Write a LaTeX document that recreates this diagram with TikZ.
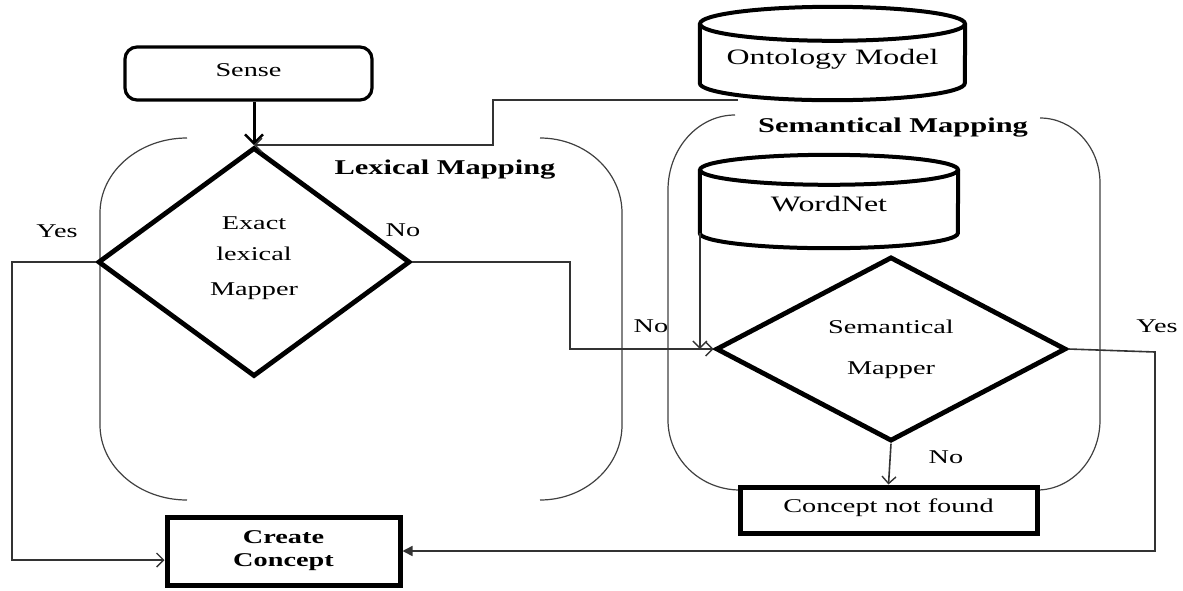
\documentclass[tikz,border=0pt]{standalone}
\usepackage{fontspec}
\setmainfont{Liberation Serif}[FakeStretch=1.45]
\usetikzlibrary{arrows.meta,shapes.geometric}

\begin{document}
\begin{tikzpicture}[x=1pt,y=-1pt,
  txt/.style={font=\fontsize{19.5}{22}\selectfont},
  bigtxt/.style={font=\fontsize{22}{26}\selectfont},
  headtxt/.style={font=\fontsize{21}{24}\selectfont\bfseries},
  thickbox/.style={draw, rectangle, line width=5pt, inner sep=0pt},
  decision/.style={draw, diamond, line width=4.8pt, inner sep=0pt, align=center, txt},
  cylline/.style={draw, line width=4pt},
  bracket/.style={draw=black!75, line width=1.2pt},
  conn/.style={draw=black!80, line width=1.6pt},
  barb/.style={-{Straight Barb[length=7pt,width=14pt,line width=1.4pt]}},
  filledtip/.style={-{Triangle[length=10pt,width=10pt]}},
]
\useasboundingbox (0,0) rectangle (1183,590);

% ---- group outlines (open at top and bottom) ----
\draw[bracket] (187,138) arc[start angle=90,end angle=180,x radius=87pt,y radius=75pt]
  -- (100,425) arc[start angle=180,end angle=270,x radius=87pt,y radius=75pt];
\draw[bracket] (540,138) arc[start angle=90,end angle=0,x radius=82pt,y radius=75pt]
  -- (622,425) arc[start angle=0,end angle=-90,x radius=82pt,y radius=75pt];
\draw[bracket] (735,115) arc[start angle=90,end angle=180,x radius=67pt,y radius=75pt]
  -- (668,420) arc[start angle=180,end angle=270,x radius=72pt,y radius=70pt];
\draw[bracket] (1040,118) arc[start angle=90,end angle=0,x radius=60pt,y radius=65pt]
  -- (1100,420) arc[start angle=0,end angle=-90,x radius=63pt,y radius=70pt];

\node[headtxt] (lexhead) at (445,170) {Lexical Mapping};
\node[headtxt] (semhead) at (893,128) {Semantical Mapping};

% ---- start box ----
\node[draw, rectangle, rounded corners=12pt, line width=3.2pt, minimum width=247pt,
      minimum height=53pt, inner sep=0pt, text depth=7pt, txt] (sense) at (248.5,73.5) {Sense};

% ---- decisions ----
\node[decision, minimum width=312pt, minimum height=229pt] (lex) at (254,262)
  {\\[-16pt]Exact\\[9pt]lexical\\[13pt]Mapper};
\node[decision, minimum width=350pt, minimum height=177pt] (sem) at (891,349)
  {Semantical\\[19pt]Mapper};

% ---- databases ----
\node[bigtxt, minimum width=265pt, minimum height=59pt, inner sep=0pt,
      text height=26pt, text depth=4pt] (onto) at (832.5,53.5) {Ontology Model};
\draw[cylline] (onto.north west) -- (onto.south west)
  arc[start angle=180,end angle=360,x radius=132.5pt,y radius=17pt] -- (onto.north east);
\draw[cylline] (onto.north) ellipse[x radius=132.5pt,y radius=17pt];

\node[bigtxt, minimum width=258pt, minimum height=63pt, inner sep=0pt,
      text height=24pt, text depth=4pt] (wn) at (829,201.5) {WordNet};
\draw[cylline] (wn.north west) -- (wn.south west)
  arc[start angle=180,end angle=360,x radius=129pt,y radius=15pt] -- (wn.north east);
\draw[cylline] (wn.north) ellipse[x radius=129pt,y radius=15pt];

% ---- result boxes ----
\node[thickbox, minimum width=233pt, minimum height=68pt, align=center,
      font=\fontsize{19.5}{23}\selectfont\bfseries] (create) at (283.5,551) {Create\\Concept};
\node[thickbox, minimum width=297pt, minimum height=46pt, text depth=8pt, txt] (notfound) at (888.5,510) {Concept not found};

% ---- bend points ----
\coordinate (ontoOut) at (738,100);
\coordinate (ontoBend) at (493,100);
\coordinate (noBend) at (570,262);
\coordinate (yesLeft) at (12,262);
\coordinate (yesRight) at (1155,352);

% ---- connectors ----
\draw[line width=3pt, -{Straight Barb[length=9pt,width=18pt,line width=2.4pt]}]
  (lex.north |- sense.south) -- (lex.north);
\draw[conn, barb] (ontoOut) -- (ontoBend) |- (lex.north);
\draw[conn, barb] (lex.east) -- (noBend) |- (sem.west);
\draw[conn, barb] (wn.south west) -- (wn.south west |- sem.west);
\draw[conn, barb] (lex.west) -- (yesLeft) |- ([yshift=-9pt]create.west);
\draw[conn, filledtip] (sem.east) -- (yesRight) |- (create.east);
\draw[conn, barb] (sem.south) -- (notfound.north);

% ---- branch labels ----
\node[txt] (yesL) at (57,231) {Yes};
\node[txt] (noL) at (403,230) {No};
\node[txt] (noM) at (651,326) {No};
\node[txt] (yesR) at (1157,326) {Yes};
\node[txt] (noD) at (946,457) {No};
\end{tikzpicture}
\end{document}
